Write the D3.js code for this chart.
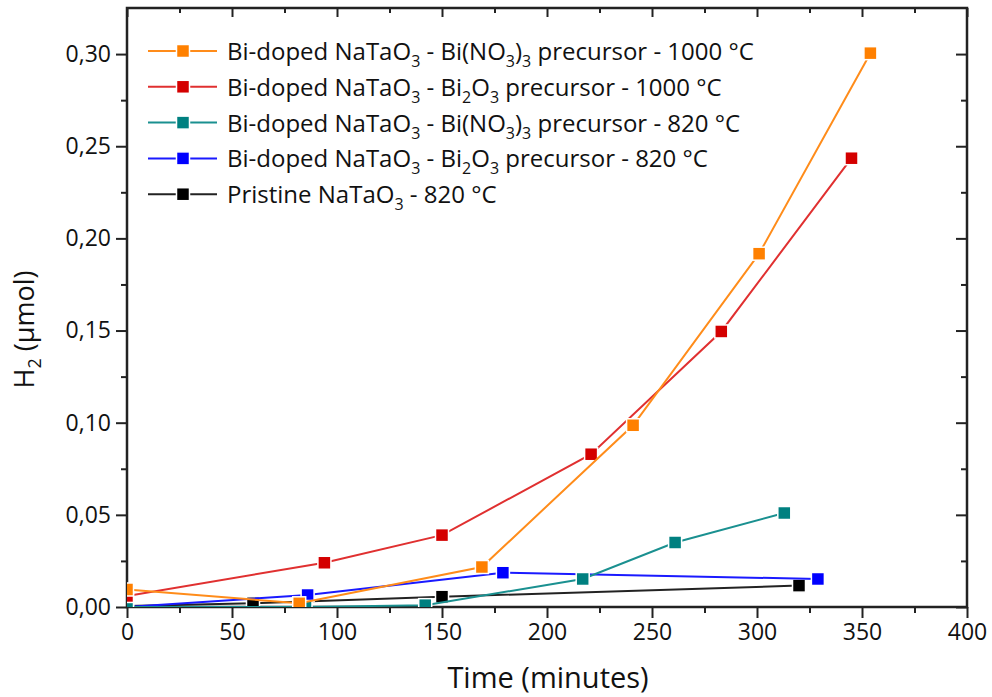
<!DOCTYPE html>
<html>
<head>
<meta charset="utf-8">
<script src="https://cdn.jsdelivr.net/npm/d3@7"></script>
<style>
  body { margin: 0; background: #fff; }
  svg text { font-family: "Open Sans", sans-serif; fill: #111; }
</style>
</head>
<body>
<svg id="chart" width="992" height="697"></svg>
<script>
// series, in minutes and µmol
const seriesNames = ["bino1000", "bio1000", "bino820", "bio820", "pristine"];
const seriesColors = ["#ff8000", "#d40000", "#008080", "#0000ff", "#000000"];
const lineColors = ["#ff8c1a", "#e03030", "#1a9090", "#1a1aff", "#222222"];

const pristineX = [0, 60, 150, 320];
const pristineY = [0.0005, 0.002, 0.0056, 0.0116];
const bio820X = [0, 86, 179, 329];
const bio820Y = [0, 0.0065, 0.0186, 0.0152];
const bino820X = [0, 85, 142, 217, 261, 313];
const bino820Y = [0, 0, 0.001, 0.0152, 0.035, 0.051];
const bio1000X = [0, 94, 150, 221, 283, 345];
const bio1000Y = [0.006, 0.024, 0.039, 0.0829, 0.1495, 0.2435];
const bino1000X = [0, 82, 169, 241, 301, 354];
const bino1000Y = [0.0095, 0.002, 0.0217, 0.0986, 0.1917, 0.3005];

const xTicks = [0, 50, 100, 150, 200, 250, 300, 350, 400];
const yTicks = [0, 0.05, 0.10, 0.15, 0.20, 0.25, 0.30];

// legend entries as [text, "sub" or ""] pieces
const legendLabels = [
  [["Bi-doped NaTaO", ""], ["3", "sub"], [" - Bi(NO", ""], ["3", "sub"], [")", ""], ["3", "sub"], [" precursor - 1000 °C", ""]],
  [["Bi-doped NaTaO", ""], ["3", "sub"], [" - Bi", ""], ["2", "sub"], ["O", ""], ["3", "sub"], [" precursor - 1000 °C", ""]],
  [["Bi-doped NaTaO", ""], ["3", "sub"], [" - Bi(NO", ""], ["3", "sub"], [")", ""], ["3", "sub"], [" precursor - 820 °C", ""]],
  [["Bi-doped NaTaO", ""], ["3", "sub"], [" - Bi", ""], ["2", "sub"], ["O", ""], ["3", "sub"], [" precursor - 820 °C", ""]],
  [["Pristine NaTaO", ""], ["3", "sub"], [" - 820 °C", ""]]
];

const zip = (xs, ys) => xs.map((x, i) => ({x: x, y: ys[i]}));
const data = {
  bino1000: zip(bino1000X, bino1000Y),
  bio1000: zip(bio1000X, bio1000Y),
  bino820: zip(bino820X, bino820Y),
  bio820: zip(bio820X, bio820Y),
  pristine: zip(pristineX, pristineY)
};

const margin = {top: 8, right: 25, bottom: 90, left: 127};
const width = 992 - margin.left - margin.right;
const height = 697 - margin.top - margin.bottom;

const x = d3.scaleLinear().domain([0, 400]).range([0, width]);
const y = d3.scaleLinear().domain([0, 0.325]).range([height, 0]);

const svg = d3.select("#chart");
const g = svg.append("g")
  .attr("transform", "translate(" + margin.left + "," + margin.top + ")");

g.append("clipPath").attr("id", "clip")
  .append("rect").attr("width", width).attr("height", height);

const fmt = d => d3.format(".2f")(d).replace(".", ",");
const xMinor = d3.range(25, 400, 50);
const yMinor = d3.range(0.025, 0.325, 0.05);

// bottom axis
g.append("g").attr("transform", "translate(0," + height + ")")
  .call(d3.axisBottom(x).tickValues(xTicks).tickSize(11).tickPadding(6).tickFormat(d3.format("d")));
g.append("g").attr("transform", "translate(0," + height + ")")
  .call(d3.axisBottom(x).tickValues(xMinor).tickSize(6).tickFormat(""));
// top mirror
g.append("g").call(d3.axisBottom(x).tickValues(xTicks).tickSize(9).tickFormat(""));
g.append("g").call(d3.axisBottom(x).tickValues(xMinor).tickSize(5).tickFormat(""));

// left axis
g.append("g")
  .call(d3.axisLeft(y).tickValues(yTicks).tickSize(11).tickPadding(5).tickFormat(fmt));
g.append("g").call(d3.axisLeft(y).tickValues(yMinor).tickSize(6).tickFormat(""));
// right mirror
g.append("g").attr("transform", "translate(" + width + ",0)")
  .call(d3.axisLeft(y).tickValues(yTicks).tickSize(11).tickFormat(""));
g.append("g").attr("transform", "translate(" + width + ",0)")
  .call(d3.axisLeft(y).tickValues(yMinor).tickSize(6).tickFormat(""));

g.selectAll(".domain").remove();
g.selectAll(".tick line").attr("stroke", "#222").attr("stroke-width", 2);
g.selectAll(".tick text").style("font-size", "23px").attr("fill", "#222");

g.append("rect")
  .attr("width", width).attr("height", height)
  .attr("fill", "none").attr("stroke", "#222").attr("stroke-width", 2.5);

// axis titles
g.append("text")
  .attr("x", x(200) + 1).attr("y", height + 81)
  .attr("text-anchor", "middle")
  .style("font-size", "29px")
  .text("Time (minutes)");

const yt = g.append("text")
  .attr("transform", "translate(" + (-93) + "," + (y(0.15) - 1) + ") rotate(-90)")
  .attr("text-anchor", "middle")
  .style("font-size", "27px");
yt.append("tspan").text("H");
yt.append("tspan").attr("dy", 7).style("font-size", "18px").text("2");
yt.append("tspan").attr("dy", -7).text(" (µmol)");

// series
const line = d3.line().x(d => x(d.x)).y(d => y(d.y));
const plot = g.append("g").attr("clip-path", "url(#clip)");
const drawOrder = [4, 3, 2, 1, 0];
const ms = 13;

drawOrder.forEach(i => {
  const key = seriesNames[i];
  const sg = plot.append("g");
  sg.append("path")
    .datum(data[key])
    .attr("fill", "none")
    .attr("stroke", lineColors[i])
    .attr("stroke-width", 2)
    .attr("d", line);
  sg.selectAll("rect")
    .data(data[key])
    .join("rect")
    .attr("x", d => x(d.x) - ms / 2)
    .attr("y", d => y(d.y) - ms / 2)
    .attr("width", ms).attr("height", ms)
    .attr("fill", seriesColors[i])
    .attr("stroke", "#fff")
    .attr("stroke-width", 1.5);
});

// legend
const legend = g.append("g").attr("transform", "translate(21,43)");
legendLabels.forEach((parts, i) => {
  const row = legend.append("g").attr("transform", "translate(0," + (i * 35.8) + ")");
  row.append("line")
    .attr("x1", 0).attr("x2", 69)
    .attr("stroke", lineColors[i]).attr("stroke-width", 2);
  row.append("rect")
    .attr("x", 35 - 6.5).attr("y", -6.5)
    .attr("width", ms).attr("height", ms)
    .attr("fill", seriesColors[i])
    .attr("stroke", "#fff").attr("stroke-width", 1.5);
  const t = row.append("text").attr("x", 79).attr("y", 9).style("font-size", "24px");
  let shifted = false;
  parts.forEach(p => {
    const ts = t.append("tspan").text(p[0]);
    if (p[1] === "sub") {
      ts.attr("dy", shifted ? 0 : 7).style("font-size", "16px");
      shifted = true;
    } else if (shifted) {
      ts.attr("dy", -7);
      shifted = false;
    }
  });
});
</script>
</body>
</html>
